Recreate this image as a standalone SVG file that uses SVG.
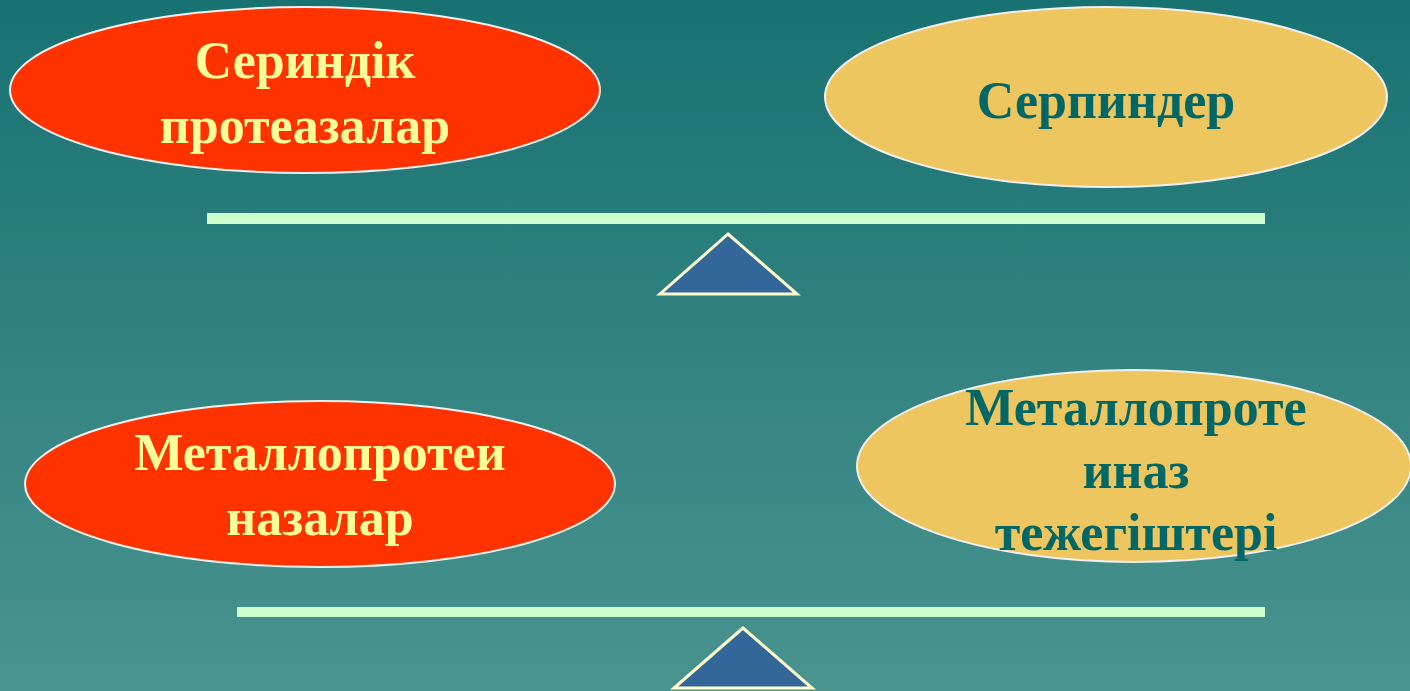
<svg xmlns="http://www.w3.org/2000/svg" width="1410" height="691" viewBox="0 0 1410 691">
<defs>
<linearGradient id="bg" x1="0" y1="0" x2="0" y2="1">
<stop offset="0" stop-color="#187272"/>
<stop offset="1" stop-color="#4a938f"/>
</linearGradient>
</defs>
<style>
.red{fill:#ff3300;stroke:#f0f0f0;stroke-width:2}
.yel{fill:#eec660;stroke:#f0f0f0;stroke-width:2}
.beam{fill:#ccffcc}
.tri{fill:#336699;stroke:#ffffcc;stroke-width:3;stroke-linejoin:miter}
text{font-family:"Liberation Serif","Times New Roman",serif;font-weight:bold;font-size:52px;text-anchor:middle}
.ty{fill:#ffff99}
.tg{fill:#006666}
</style>
<rect width="1410" height="691" fill="url(#bg)"/>
<g id="connectors">
<rect class="beam" x="207" y="213" width="1058" height="11"/>
<polygon class="tri" points="728,234 660,294 797,294"/>
<rect class="beam" x="237" y="607" width="1028" height="10"/>
<polygon class="tri" points="743,628 674,688 812,688"/>
</g>
<g id="n1">
<ellipse class="red" cx="305" cy="90" rx="295" ry="83"/>
<text class="ty" x="305" y="78">Сериндік</text>
<text class="ty" x="305" y="143">протеазалар</text>
</g>
<g id="n2">
<ellipse class="yel" cx="1106" cy="97" rx="281" ry="90"/>
<text class="tg" x="1106" y="118">Серпиндер</text>
</g>
<g id="n3">
<ellipse class="red" cx="320" cy="484" rx="295" ry="83"/>
<text class="ty" x="320" y="470">Металлопротеи</text>
<text class="ty" x="320" y="535">назалар</text>
</g>
<g id="n4">
<ellipse class="yel" cx="1134" cy="466" rx="277" ry="96"/>
<text class="tg" x="1136" y="425">Металлопроте</text>
<text class="tg" x="1136" y="488">иназ</text>
<text class="tg" x="1136" y="550">тежегіштері</text>
</g>
</svg>
